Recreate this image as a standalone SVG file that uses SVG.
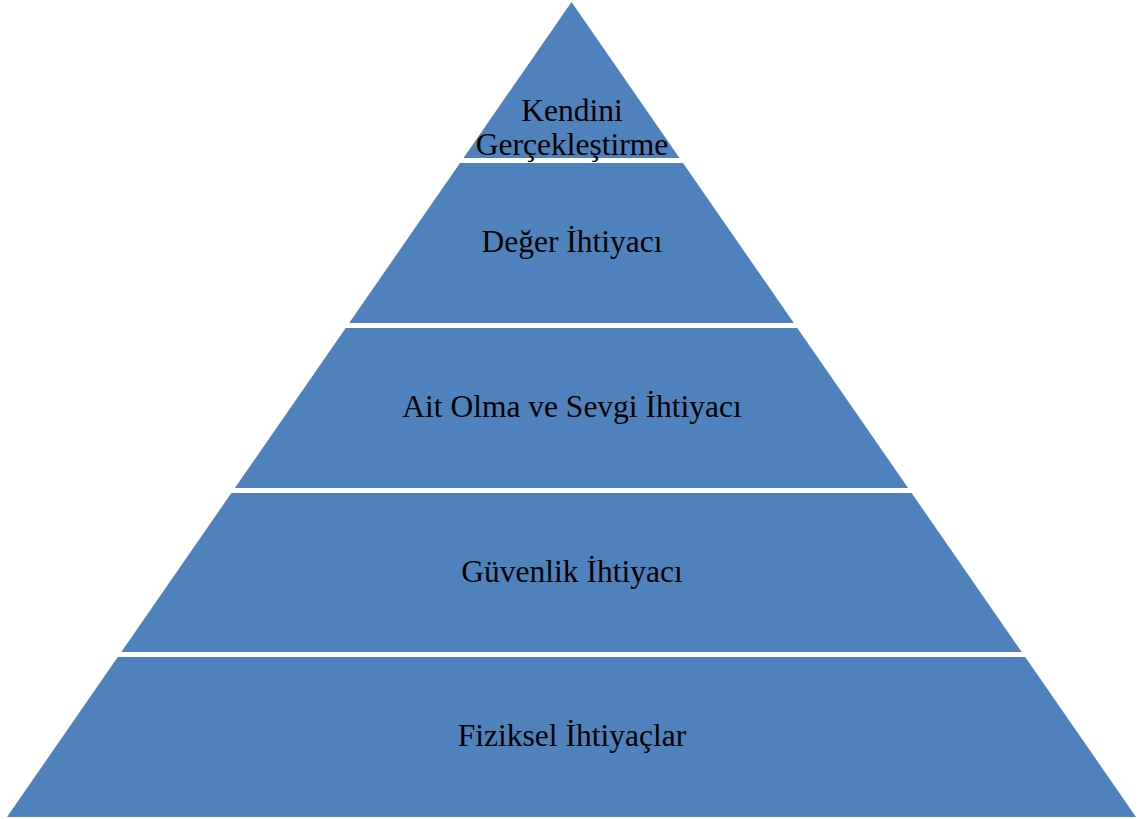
<svg xmlns="http://www.w3.org/2000/svg" width="1142" height="819" viewBox="0 0 1142 819">
<style>
.layer{fill:#4F81BD;stroke:none}
.lbl{font-family:"Liberation Serif","Times New Roman",serif;font-size:31.5px;fill:#000;text-anchor:middle}
</style>
<rect width="1142" height="819" fill="#fff"/>
<g id="layer1"><polygon class="layer" points="571.5,2 679.5,158 463.5,158"/><text class="lbl" x="572" y="121">Kendini</text><text class="lbl" x="572" y="155">Gerçekleştirme</text></g>
<g id="layer2"><polygon class="layer" points="460,163 683,163 793.8,323 349.2,323"/><text class="lbl" x="572" y="252">Değer İhtiyacı</text></g>
<g id="layer3"><polygon class="layer" points="345.7,328 797.3,328 908.1,488 234.9,488"/><text class="lbl" x="572" y="417">Ait Olma ve Sevgi İhtiyacı</text></g>
<g id="layer4"><polygon class="layer" points="231.4,493 911.6,493 1021.7,652 121.3,652"/><text class="lbl" x="572" y="582">Güvenlik İhtiyacı</text></g>
<g id="layer5"><polygon class="layer" points="117.8,657 1025.2,657 1136,817 7,817"/><text class="lbl" x="572" y="746">Fiziksel İhtiyaçlar</text></g>
<g id="connectors"></g>
</svg>
